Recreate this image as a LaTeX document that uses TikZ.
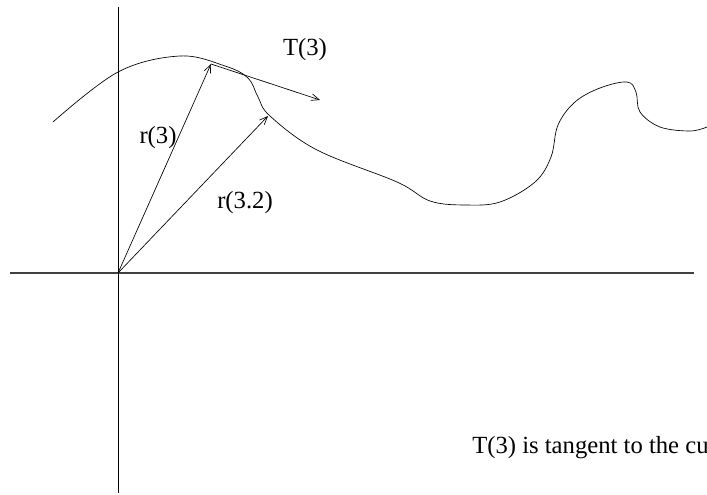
\documentclass[tikz,border=0pt]{standalone}
\usepackage{fontspec}
\setmainfont{Liberation Serif}
\usetikzlibrary{arrows.meta}

\begin{document}
\begin{tikzpicture}[x=0.75pt,y=-0.75pt,
    axis/.style={line width=0.9pt, black!75},
    vec/.style={-{Straight Barb[length=6pt,width=5pt]}, line width=0.5pt},
    lbl/.style={font=\fontsize{18.5}{22}\selectfont, inner sep=0pt}
]
\useasboundingbox (0,0) rectangle (707,495);
\clip (0,0) rectangle (707,495);

% axes
\coordinate (O) at (118,273);
\draw[axis] (10,273) -- (694,273);
\draw[line width=0.6pt] (118,7) -- (118,493);

% the curve
\draw[line width=0.5pt] plot[smooth, tension=0.6] coordinates {(53,122) (118,72) (180,56) (225,66)
  (248,78) (258,97) (270,116) (317,150) (397,182) (430,201) (465,205) (500,202) (535,182) (551,157)
  (558,125) (575,102) (600,88) (627,82) (636,92) (640,112) (660,127) (690,131) (707,127)};

\coordinate (P3) at (211,64);
\coordinate (P32) at (268,116);
\coordinate (Tend) at (320,100);

% vectors
\draw[vec] (O) -- (P3);
\draw[vec] (O) -- (P32);
\draw[vec] (P3) -- (Tend);

% labels
\node[lbl] (t3lbl) at (305,50) {T(3)};
\node[lbl] (r3lbl) at (158,138) {r(3)};
\node[lbl] (r32lbl) at (245,203) {r(3.2)};
\node[lbl, anchor=base west] (note) at (472,453) {T(3) is tangent to the curve};
\end{tikzpicture}
\end{document}
